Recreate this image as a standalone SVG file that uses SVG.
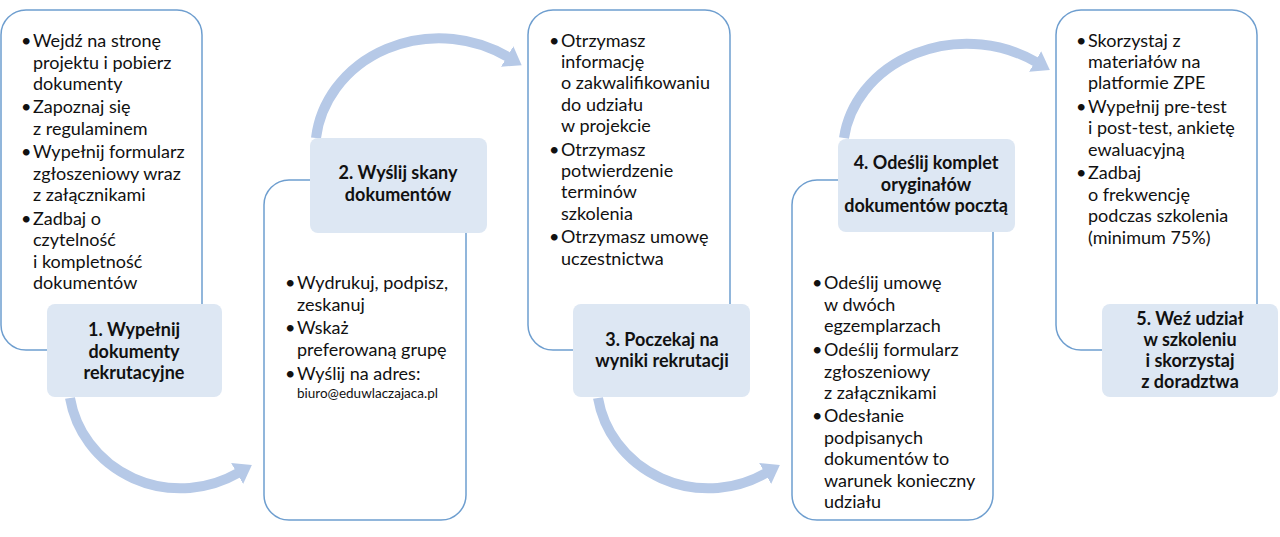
<svg xmlns="http://www.w3.org/2000/svg" width="1280" height="537" viewBox="0 0 1280 537">
<style>
.card{fill:#ffffff;stroke:#6e9ecf;stroke-width:1.5}
.lbl{fill:#dde7f3}
.t{font-family:Lato,"Noto Sans",sans-serif;font-size:18px;fill:#111}
.b{font-family:Lato,"Noto Sans",sans-serif;font-size:18px;font-weight:bold;fill:#111;text-anchor:middle}
.s{font-size:13.5px}
.arr{fill:none;stroke:#b6c9e7;stroke-width:10}
</style>
<defs>
<marker id="ah" markerUnits="userSpaceOnUse" markerWidth="18" markerHeight="26" viewBox="0 -13 18 26" refX="1" refY="0" orient="auto">
<path d="M0,-12 L17,0 L0,12 z" fill="#b6c9e7"/>
</marker>
</defs>
<g id="connectors">
<path class="arr" d="M70 398 A112 108 0 0 0 238 473" marker-end="url(#ah)"/>
<path class="arr" d="M316 138 A124 112 0 0 1 508 57" marker-end="url(#ah)"/>
<path class="arr" d="M598 398 A112 108 0 0 0 766 473" marker-end="url(#ah)"/>
<path class="arr" d="M844 138 A124 108 0 0 1 1036 62" marker-end="url(#ah)"/>
</g>
<g id="node1">
<rect class="card" x="1" y="10" width="201" height="340" rx="25"/>
<text class="t"><tspan x="21" y="47">•</tspan><tspan x="33" y="47">Wejdź na stronę</tspan><tspan x="33" y="68.5">projektu i pobierz</tspan><tspan x="33" y="90">dokumenty</tspan><tspan x="21" y="113">•</tspan><tspan x="33" y="113">Zapoznaj się</tspan><tspan x="33" y="134.5">z regulaminem</tspan><tspan x="21" y="158">•</tspan><tspan x="33" y="158">Wypełnij formularz</tspan><tspan x="33" y="179.5">zgłoszeniowy wraz</tspan><tspan x="33" y="201">z załącznikami</tspan><tspan x="21" y="224.5">•</tspan><tspan x="33" y="224.5">Zadbaj o</tspan><tspan x="33" y="246">czytelność</tspan><tspan x="33" y="267.5">i kompletność</tspan><tspan x="33" y="289">dokumentów</tspan></text>
<rect class="lbl" x="47" y="304" width="175" height="93" rx="8"/>
<text class="b"><tspan x="134" y="336">1. Wypełnij</tspan><tspan x="134" y="357.5">dokumenty</tspan><tspan x="134" y="379">rekrutacyjne</tspan></text>
</g>
<g id="node2">
<rect class="card" x="264" y="180" width="202" height="340" rx="25"/>
<rect class="lbl" x="310" y="138" width="177" height="95" rx="8"/>
<text class="b"><tspan x="398" y="179">2. Wyślij skany</tspan><tspan x="398" y="201">dokumentów</tspan></text>
<text class="t"><tspan x="285" y="289">•</tspan><tspan x="297" y="289">Wydrukuj, podpisz,</tspan><tspan x="297" y="311">zeskanuj</tspan><tspan x="285" y="334">•</tspan><tspan x="297" y="334">Wskaż</tspan><tspan x="297" y="356">preferowaną grupę</tspan><tspan x="285" y="380">•</tspan><tspan x="297" y="380">Wyślij na adres:</tspan><tspan x="297" y="398" class="s">biuro@eduwlaczajaca.pl</tspan></text>
</g>
<g id="node3">
<rect class="card" x="528" y="10" width="202" height="340" rx="25"/>
<text class="t"><tspan x="549" y="47">•</tspan><tspan x="561" y="47">Otrzymasz</tspan><tspan x="561" y="68">informację</tspan><tspan x="561" y="89">o zakwalifikowaniu</tspan><tspan x="561" y="111">do udziału</tspan><tspan x="561" y="132">w projekcie</tspan><tspan x="549" y="156">•</tspan><tspan x="561" y="156">Otrzymasz</tspan><tspan x="561" y="177">potwierdzenie</tspan><tspan x="561" y="198">terminów</tspan><tspan x="561" y="219.5">szkolenia</tspan><tspan x="549" y="243">•</tspan><tspan x="561" y="243">Otrzymasz umowę</tspan><tspan x="561" y="265">uczestnictwa</tspan></text>
<rect class="lbl" x="573" y="304" width="177" height="93" rx="8"/>
<text class="b"><tspan x="662" y="346">3. Poczekaj na</tspan><tspan x="662" y="367">wyniki rekrutacji</tspan></text>
</g>
<g id="node4">
<rect class="card" x="792" y="180" width="201" height="340" rx="25"/>
<rect class="lbl" x="838" y="139" width="177" height="93" rx="8"/>
<text class="b"><tspan x="926" y="169">4. Odeślij komplet</tspan><tspan x="926" y="190.5">oryginałów</tspan><tspan x="926" y="212">dokumentów pocztą</tspan></text>
<text class="t"><tspan x="812" y="289">•</tspan><tspan x="824" y="289">Odeślij umowę</tspan><tspan x="824" y="311">w dwóch</tspan><tspan x="824" y="332">egzemplarzach</tspan><tspan x="812" y="356">•</tspan><tspan x="824" y="356">Odeślij formularz</tspan><tspan x="824" y="377.5">zgłoszeniowy</tspan><tspan x="824" y="399">z załącznikami</tspan><tspan x="812" y="422">•</tspan><tspan x="824" y="422">Odesłanie</tspan><tspan x="824" y="444">podpisanych</tspan><tspan x="824" y="465">dokumentów to</tspan><tspan x="824" y="487">warunek konieczny</tspan><tspan x="824" y="508">udziału</tspan></text>
</g>
<g id="node5">
<rect class="card" x="1056" y="10" width="201" height="340" rx="25"/>
<text class="t"><tspan x="1076" y="47">•</tspan><tspan x="1088" y="47">Skorzystaj z</tspan><tspan x="1088" y="68">materiałów na</tspan><tspan x="1088" y="89">platformie ZPE</tspan><tspan x="1076" y="113">•</tspan><tspan x="1088" y="113">Wypełnij pre-test</tspan><tspan x="1088" y="134">i post-test, ankietę</tspan><tspan x="1088" y="155.5">ewaluacyjną</tspan><tspan x="1076" y="179">•</tspan><tspan x="1088" y="179">Zadbaj</tspan><tspan x="1088" y="201">o frekwencję</tspan><tspan x="1088" y="222">podczas szkolenia</tspan><tspan x="1088" y="243.5">(minimum 75%)</tspan></text>
<rect class="lbl" x="1102" y="304" width="176" height="93" rx="8"/>
<text class="b"><tspan x="1190" y="325">5. Weź udział</tspan><tspan x="1190" y="346">w szkoleniu</tspan><tspan x="1190" y="367">i skorzystaj</tspan><tspan x="1190" y="388">z doradztwa</tspan></text>
</g>
</svg>
